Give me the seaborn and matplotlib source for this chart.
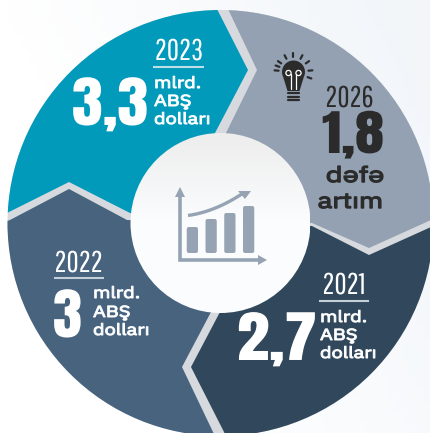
import numpy as np
import pandas as pd
import matplotlib
matplotlib.use("Agg")
import matplotlib.pyplot as plt
from matplotlib.patches import Polygon, Circle, FancyBboxPatch
from matplotlib.patheffects import AbstractPathEffect
from matplotlib.transforms import Affine2D
from matplotlib import font_manager as fm
import seaborn as sns

# ---- chart content ----
years = ["2023", "2026", "2022", "2021"]
amounts = ["3,3", "1,8", "3", "2,7"]
unit_lines = ["mlrd.", "ABŞ", "dolları"]
growth_lines = ["dəfə", "artım"]
icon_bar_heights = [26, 34, 40, 47]

TEAL, GREY, SLATE, DARK = "#019abb", "#94a1b2", "#47637e", "#31485c"
SEP = "#d6d9dd"
INK = "#2b2b2b"


def pick(*names):
    have = {f.name for f in fm.fontManager.ttflist}
    return [n for n in names if n in have] + ["DejaVu Sans"]


class Stretch(AbstractPathEffect):
    """Widen real text horizontally about x0 (display px), with optional emboldening."""

    def __init__(self, x0, sx, stroke=0.0):
        super().__init__()
        self.x0, self.sx, self.stroke = x0, sx, stroke

    def draw_path(self, renderer, gc, tpath, affine, rgbFace=None):
        aff = affine + Affine2D().translate(-self.x0, 0).scale(self.sx, 1).translate(self.x0, 0)
        gc0 = renderer.new_gc()
        gc0.copy_properties(gc)
        gc0.set_linewidth(self.stroke)
        gc0.set_foreground(rgbFace)
        renderer.draw_path(gc0, tpath, aff, rgbFace)
        gc0.restore()


sns.set_theme(style="white")
BIG = pick("Anton", "Oswald", "Liberation Sans Narrow", "Roboto")
THIN = pick("Pathway Gothic One", "Oswald", "Liberation Sans Narrow", "Roboto")
LABEL = pick("IBM Plex Sans", "Rubik", "Roboto", "Open Sans")

W, H = 431, 433
fig = plt.figure(figsize=(W / 100, H / 100), dpi=100)
ax = fig.add_axes([0, 0, 1, 1])
ax.set_xlim(0, W)
ax.set_ylim(H, 0)
ax.set_axis_off()

yy, xx = np.mgrid[0:1:60j, 0:1:60j]
bg = np.clip(xx * 1.1 - yy * 0.5, 0, 1)
bg_rgb = np.dstack([1 - 0.05 * bg, 1 - 0.035 * bg, 1 - 0.02 * bg])
ax.imshow(bg_rgb, extent=[0, W, H, 0], aspect="auto", zorder=0)

CX, CY, R, r = 220.5, 223, 213, 90
ax.add_patch(Circle((CX, CY), R, fc=SEP, ec="none", zorder=1))

c = (CX, CY)
shapes = [
    (TEAL, [c, (215, 133), (248, 70), (217, 9), (212, -2), (-6, -2), (-6, 219), (7, 213),
            (69, 182), (130, 213)]),
    (GREY, [c, (226, 133), (257, 70), (228, 9), (223, -2), (445, -2), (445, 214), (431, 220),
            (369, 248), (312, 223)]),
    (DARK, [c, (312, 226), (369, 255), (431, 227), (445, 221), (445, 445), (230, 445), (224, 432),
            (191, 367), (220, 312)]),
    (SLATE, [c, (211, 312), (182, 367), (213, 432), (219, 445), (-6, 445), (-6, 226), (10, 220),
             (69, 189), (127, 220)]),
]
for col, pts in shapes:
    p = Polygon(pts, closed=True, fc=col, ec="none", zorder=2)
    ax.add_patch(p)
    p.set_clip_path(Circle((CX, CY), R, transform=ax.transData))

gy = np.linspace(0, 1, 100)[:, None]
grad = np.dstack([0.93 + 0.055 * np.clip(gy * 2, 0, 1),
                  0.93 + 0.06 * np.clip(gy * 2, 0, 1),
                  0.93 + 0.065 * np.clip(gy * 2, 0, 1)])
im = ax.imshow(grad, extent=[CX - r, CX + r, CY + r, CY - r], aspect="auto", zorder=3)
im.set_clip_path(Circle((CX, CY), r, transform=ax.transData))
ax.set_xlim(0, W)
ax.set_ylim(H, 0)

ICON = "#95a3b3"
ix0, ix1, iy0, iy1 = 183, 258, 253, 206
inset = fig.add_axes([ix0 / W, 1 - iy0 / H, (ix1 - ix0) / W, (iy0 - iy1) / H], zorder=5)
inset.patch.set_alpha(0)
icon_df = pd.DataFrame({"step": ["a", "b", "c", "d"], "h": icon_bar_heights})
sns.barplot(data=icon_df, x="step", y="h", color=ICON, saturation=1, width=0.6, ax=inset)
inset.set_xlim(-0.5, 3.5)
inset.set_ylim(0, 47)
inset.set_axis_off()
for bar in list(inset.patches):
    x, w, h = bar.get_x(), bar.get_width(), bar.get_height()
    bar.set_visible(False)
    inset.add_patch(FancyBboxPatch((x, 0), w, h, boxstyle="round,pad=0,rounding_size=0.11",
                                   mutation_aspect=18.7, fc=ICON, ec="none"))

ax.plot([180, 180, 260], [195, 260, 260], color=ICON, lw=2.6, solid_joinstyle="miter", zorder=5)
ax.add_patch(Polygon([(175, 197), (180, 187), (185, 197)], fc=ICON, ec="none", zorder=5))
ax.add_patch(Polygon([(258, 255), (267, 260), (258, 265)], fc=ICON, ec="none", zorder=5))
t = np.linspace(0, 1, 30)
ax.plot(188 + 56 * t, 215.5 - 8 * t - 15 * t ** 2, color=ICON, lw=2.4, zorder=5,
        solid_capstyle="butt")
ax.add_patch(Polygon([(238, 191), (251, 191), (245, 199)], fc=ICON, ec="none", zorder=5))

BX, BY = 293.5, 72
ax.add_patch(Circle((BX, BY), 11.5, fc=INK, ec="none", zorder=5))
ax.add_patch(Polygon([(BX - 10, BY + 6), (BX + 10, BY + 6), (BX + 6, BY + 19), (BX - 6, BY + 19)],
                     fc=INK, ec="none", zorder=5))
for dy in (21, 24.5, 27.5):
    ax.plot([BX - 5.5, BX + 5.5], [BY + dy, BY + dy], color=INK, lw=1.6, zorder=5,
            solid_capstyle="round")
for deg in (-90, -62, -35, -5, 20, -118, -145, -175, 200):
    a = np.deg2rad(deg)
    ax.plot([BX + 15 * np.cos(a), BX + 19 * np.cos(a)], [BY + 15 * np.sin(a), BY + 19 * np.sin(a)],
            color=INK, lw=1.6, zorder=5, solid_capstyle="round")
for s in (-1, 1):
    ax.add_patch(Circle((BX + s * 5, BY + 1), 2.6, fc="none", ec="white", lw=0.9, zorder=6))
    ax.plot([BX + s * 2.5, BX + s * 2.5], [BY + 2, BY + 17], color="white", lw=0.9, zorder=6)


def stretched(x, sx, stroke=0.0):
    return [Stretch(ax.transData.transform((x, 0))[0], sx, stroke)]


def year(txt, xc, base, col, under=None):
    ax.text(xc, base, txt, family=THIN, fontsize=21.5, color=col, ha="center", va="baseline", zorder=7,
            path_effects=stretched(xc, 1.0))
    if under:
        ax.plot(under[:2], [under[2]] * 2, color=under[3], lw=1.5, zorder=7, solid_capstyle="butt")


def big(txt, x, base, size, sx, col="white"):
    ax.text(x, base, txt, family=BIG, fontsize=size, color=col, ha="left", va="baseline", zorder=7,
            path_effects=stretched(x, sx))


def unit(x, bases):
    for line, b in zip(unit_lines, bases):
        ax.text(x, b, line, family=LABEL, weight="bold", fontsize=11.5, color="white", ha="left",
                va="baseline", zorder=7, path_effects=stretched(x, 1.25, 0.7))


year(years[0], 179, 60, "white", (153, 204, 67, "#bfdfe8"))
big(amounts[0], 72, 125, 40, 1.12)
unit(154, (88, 106, 124))

year(years[1], 349.5, 107, INK)
big(amounts[1], 322, 153, 35, 1.2, INK)
for line, xc, b, sx in zip(growth_lines, (355, 350.5), (182, 208), (1.36, 1.28)):
    ax.text(xc, b, line, family=LABEL, weight="bold", fontsize=15.5, color=INK, ha="center",
            va="baseline", zorder=7, path_effects=stretched(xc, sx, 1.0))

year(years[2], 78.5, 272, "white", (54, 104, 278, "#c4cfd8"))
big(amounts[2], 53, 337, 40, 1.06)
unit(93, (298, 317, 335))

year(years[3], 344, 294, "white", (319, 369, 301, "#c4cfd8"))
big(amounts[3], 237, 360, 40, 1.17)
unit(320, (322, 340, 358))

fig.savefig("out.png", dpi=100)
